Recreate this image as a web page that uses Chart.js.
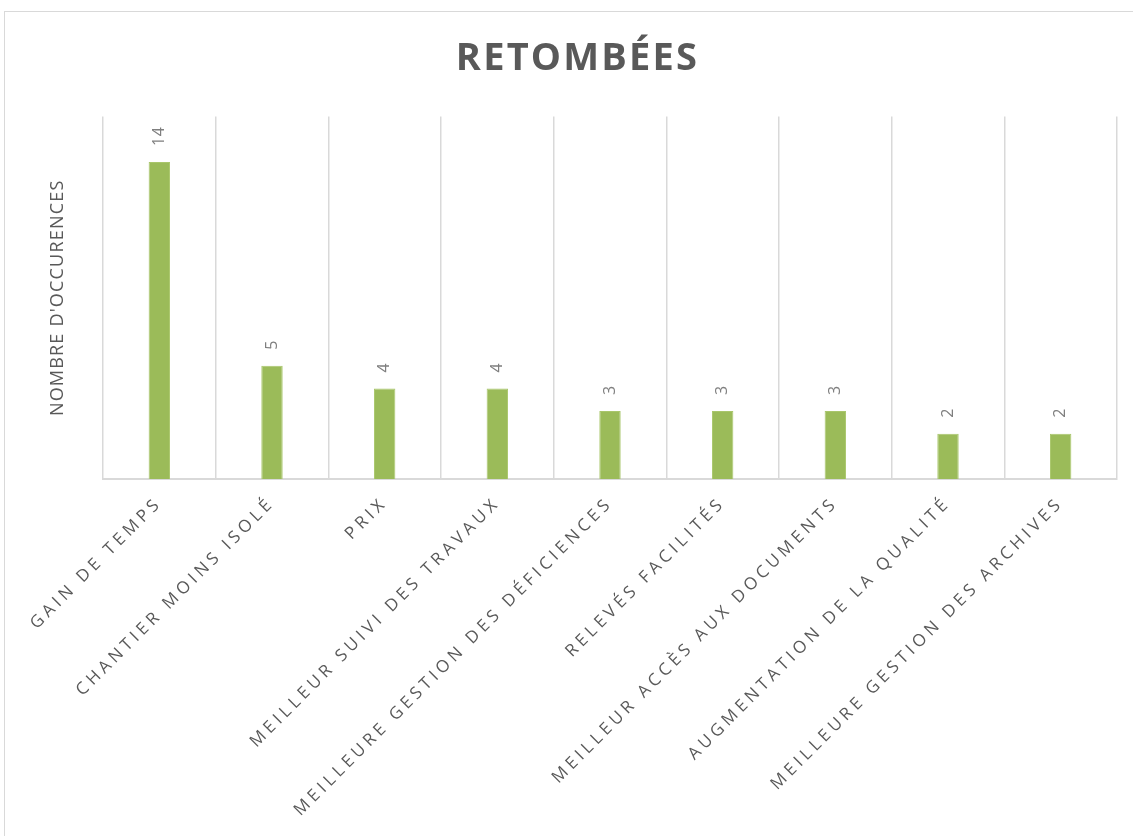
<!DOCTYPE html>
<html>
<head>
<meta charset="utf-8">
<script src="https://cdn.jsdelivr.net/npm/chart.js@4/dist/chart.umd.min.js"></script>
<style>
  html, body { margin: 0; padding: 0; background: #fff; }
  #wrap { position: relative; width: 1133px; height: 836px; }
  #frame { position: absolute; left: 4px; top: 11px; right: -10px; bottom: -10px; border: 1px solid #d9d9d9; pointer-events: none; }
  canvas { display: block; }
</style>
</head>
<body>
<div id="wrap">
  <canvas id="c" width="1133" height="836"></canvas>
  <div id="frame"></div>
</div>
<script>
const chartTitle = "RETOMBÉES";
const yAxisTitle = "NOMBRE D'OCCURENCES";
const categories = [
  "GAIN DE TEMPS",
  "CHANTIER MOINS ISOLÉ",
  "PRIX",
  "MEILLEUR SUIVI DES TRAVAUX",
  "MEILLEURE GESTION DES DÉFICIENCES",
  "RELEVÉS FACILITÉS",
  "MEILLEUR ACCÈS AUX DOCUMENTS",
  "AUGMENTATION DE LA QUALITÉ",
  "MEILLEURE GESTION DES ARCHIVES"
];
const occurrences = [14, 5, 4, 4, 3, 3, 3, 2, 2];
const yMin = 0;
const yMax = 16;

const FONT = '"Open Sans", "DejaVu Sans", sans-serif';
const X_SPACING = '4.1px';

function wrapMethod(obj, name, spacing, dx) {
  if (!obj || !obj[name] || obj['__w_' + name]) return;
  const orig = obj[name].bind(obj);
  obj[name] = function (...args) {
    const ctx = this.ctx;
    ctx.save();
    ctx.letterSpacing = spacing;
    if (dx) ctx.translate(dx, 0);
    orig(...args);
    ctx.restore();
  };
  obj['__w_' + name] = true;
}

const spacingPlugin = {
  id: 'spacing',
  beforeLayout(chart) {
    chart.ctx.letterSpacing = X_SPACING;
    wrapMethod(chart.scales.x, 'drawLabels', X_SPACING);
    wrapMethod(chart.scales.y, 'drawTitle', '1.2px');
  },
  afterLayout(chart) {
    chart.ctx.letterSpacing = '0px';
    wrapMethod(chart.titleBlock, 'draw', '2.2px', 19);
  }
};

const valueLabels = {
  id: 'valueLabels',
  afterDatasetsDraw(chart) {
    const ctx = chart.ctx;
    const meta = chart.getDatasetMeta(0);
    ctx.save();
    ctx.letterSpacing = '0.5px';
    ctx.font = '16px ' + FONT;
    ctx.fillStyle = '#7f7f7f';
    ctx.textAlign = 'left';
    ctx.textBaseline = 'middle';
    meta.data.forEach((bar, i) => {
      ctx.save();
      ctx.translate(bar.x, bar.y - 16);
      ctx.rotate(-Math.PI / 2);
      ctx.fillText(String(chart.data.datasets[0].data[i]), 0, 0);
      ctx.restore();
    });
    ctx.restore();
  }
};

new Chart(document.getElementById('c'), {
  type: 'bar',
  data: {
    labels: categories,
    datasets: [{
      data: occurrences,
      backgroundColor: '#9bbb59',
      borderColor: '#a9c66b',
      borderWidth: 1,
      barPercentage: 0.19,
      categoryPercentage: 1
    }]
  },
  options: {
    responsive: false,
    animation: false,
    layout: { padding: { left: 0, right: 16, top: 0, bottom: 0 } },
    plugins: {
      legend: { display: false },
      tooltip: { enabled: false },
      title: {
        display: true,
        text: chartTitle,
        color: '#595959',
        font: { family: FONT, size: 38, weight: 'bold' },
        padding: { top: 36, bottom: 35 }
      }
    },
    scales: {
      x: {
        offset: true,
        grid: { display: true, offset: true, color: '#d9d9d9', lineWidth: 1.5, drawTicks: false },
        border: { display: true, color: '#d9d9d9', width: 2 },
        ticks: {
          minRotation: 45, maxRotation: 45, autoSkip: false,
          color: '#595959', padding: 14,
          font: { family: FONT, size: 17 }
        },
        afterFit(scale) { scale.height = 357; }
      },
      y: {
        min: yMin, max: yMax,
        grid: { display: false },
        border: { display: false },
        ticks: { display: false },
        title: {
          display: true,
          text: yAxisTitle,
          color: '#595959',
          font: { family: FONT, size: 18 },
          padding: { top: 47, bottom: 0 }
        },
        afterFit(scale) { scale.width = 103; }
      }
    }
  },
  plugins: [spacingPlugin, valueLabels]
});
</script>
</body>
</html>
